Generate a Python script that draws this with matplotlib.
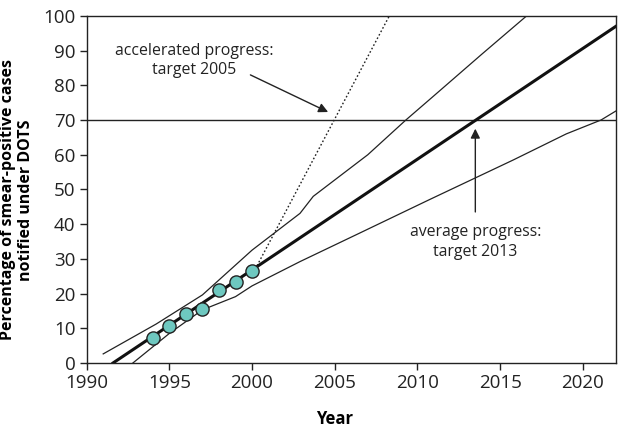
import numpy as np
import matplotlib.pyplot as plt

plt.rcParams['font.family'] = ['Open Sans', 'DejaVu Sans']

# observed DOTS coverage
obs_years = [1994, 1995, 1996, 1997, 1998, 1999, 2000]
obs_pct = [7.1, 10.5, 14.0, 15.5, 21.0, 23.3, 26.5]

# average progress trend
avg_years = [1991.6, 2022]
avg_pct = [0, 97]

# accelerated progress
acc_years = [2000.3, 2008.3]
acc_pct = [28, 100]

# upper / lower bounds
up_years = [1991.0, 1994.2, 1997.0, 2000.0, 2002.9, 2003.7, 2007.0, 2009.3, 2011.0, 2013.9, 2016.6]
up_pct = [2.6, 11.2, 19.6, 32.5, 43.1, 48.0, 60.0, 70.0, 77.0, 89.0, 100.0]
lo_years = [1992.8, 1995.0, 1997.0, 1999.0, 2000.0, 2002.9, 2006.5, 2010.7, 2015.8, 2019.0, 2021.1, 2022]
lo_pct = [0, 8.5, 15.3, 19.1, 22.2, 29.2, 37.4, 47.0, 58.5, 66.0, 70.0, 72.6]

target = 70

fig, ax = plt.subplots(figsize=(6.19, 4.30), dpi=100)
fig.subplots_adjust(left=0.14, right=0.995, top=0.963, bottom=0.156)

ax.axhline(target, color='#222222', lw=1.0)
ax.plot(up_years, up_pct, color='#222222', lw=0.9)
ax.plot(lo_years, lo_pct, color='#222222', lw=0.9)
ax.plot(acc_years, acc_pct, color='#222222', lw=1.0, ls=(0, (1.2, 1.6)))
ax.plot(avg_years, avg_pct, color='#111111', lw=2.2)
ax.plot(obs_years, obs_pct, 'o', ms=9.5, mfc='#6ec8c0', mec='#222222', mew=1.0,
        zorder=5)

# labels and arrows
ax.text(1996.5, 87.2, 'accelerated progress:\ntarget 2005', ha='center', va='center',
        fontsize=11.4, color='#222222', linespacing=1.3)
ax.annotate('', xy=(2004.6, 72.3), xytext=(1999.9, 83),
            arrowprops=dict(arrowstyle='-|>', color='#222222', lw=1.0,
                            shrinkA=0, shrinkB=0, mutation_scale=14))
ax.text(2013.5, 34.9, 'average progress:\ntarget 2013', ha='center', va='center',
        fontsize=11.4, color='#222222', linespacing=1.3)
ax.annotate('', xy=(2013.5, 67.5), xytext=(2013.5, 43.5),
            arrowprops=dict(arrowstyle='-|>', color='#222222', lw=1.0,
                            shrinkA=0, shrinkB=0, mutation_scale=14))

ax.set_xlim(1990, 2022)
ax.set_ylim(0, 100)
ax.set_xticks(range(1990, 2021, 5))
ax.set_yticks(range(0, 101, 10))
ax.tick_params(direction='out', length=5, width=1.0, labelsize=13.5, colors='#222222',
               pad=3)
for s in ax.spines.values():
    s.set_color('#222222')
    s.set_linewidth(1.0)

ax.set_xlabel('Year', fontsize=12, fontweight='bold')
ax.xaxis.set_label_coords(0.468, -0.135)
ax.set_ylabel('Percentage of smear-positive cases\nnotified under DOTS', fontsize=11.5,
              fontweight='bold', linespacing=1.15)
ax.yaxis.set_label_coords(-0.1, 0.47)

fig.savefig('out.png', dpi=100)
